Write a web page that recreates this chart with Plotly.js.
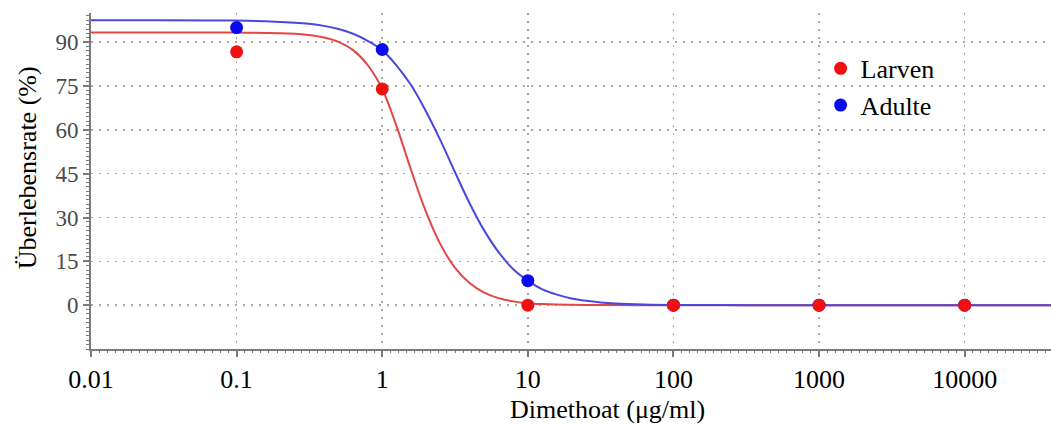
<!DOCTYPE html>
<html>
<head>
<meta charset="utf-8">
<script src="https://cdn.plot.ly/plotly-3.0.1.min.js"></script>
<style>
  html, body { margin: 0; padding: 0; background: #fff; }
  #chart { width: 1051px; height: 428px; }
</style>
</head>
<body>
<div id="chart"></div>
<script>
// Measured points
const concentrations = [0.1, 1, 10, 100, 1000, 10000];
const larvenSurvival = [86.7, 74.0, 0, 0, 0, 0];
const adulteSurvival = [95.0, 87.5, 8.4, 0, 0, 0];

// Fitted curves
const fitDose = [0.01, 0.1, 0.251, 0.316, 0.398, 0.501, 0.631, 0.794, 1, 1.259, 1.585, 1.995,
  2.512, 3.162, 3.981, 5.012, 6.31, 7.943, 10, 12.59, 15.85, 19.95, 25.12, 31.62, 39.81,
  63.1, 100, 316, 1000, 39811];
const larvenFit = [93.3, 93.3, 92.9, 92.4, 91.6, 90.1, 87.3, 82.2, 74.0, 61.0, 46.0, 32.0,
  20.8, 12.8, 7.6, 4.3, 2.4, 1.3, 0.7, 0.38, 0.2, 0.11, 0.06, 0.03, 0.02,
  0.01, 0, 0, 0, 0];
const adulteFit = [97.5, 97.4, 96.7, 96.3, 95.6, 94.5, 92.9, 90.5, 87.3, 81.9, 75.2, 66.4,
  56.4, 45.5, 34.9, 25.6, 18.1, 12.3, 8.4, 5.4, 3.6, 2.3, 1.5, 0.95, 0.6,
  0.25, 0.1, 0.01, 0, 0];

const xTickVals = [0.01, 0.1, 1, 10, 100, 1000, 10000];
const xTickText = ['0.01', '0.1', '1', '10', '100', '1000', '10000'];
const yTickVals = [0, 15, 30, 45, 60, 75, 90];

const seriesNames = ['Larven', 'Adulte'];
const xTitle = 'Dimethoat (μg/ml)';
const yTitle = 'Überlebensrate (%)';

const serif = 'Liberation Serif, Times New Roman, serif';
const axisGrey = '#7a7a7a';

const traces = [
  {x: fitDose, y: larvenFit, mode: 'lines', line: {color: 'rgb(228,70,70)', width: 2, shape: 'spline'},
   showlegend: false, hoverinfo: 'skip'},
  {x: fitDose, y: adulteFit, mode: 'lines', line: {color: 'rgb(72,72,225)', width: 2, shape: 'spline'},
   showlegend: false, hoverinfo: 'skip'},
  {x: concentrations, y: adulteSurvival, mode: 'markers', name: seriesNames[1],
   marker: {color: '#0a0af0', size: 13}, legendrank: 2},
  {x: concentrations, y: larvenSurvival, mode: 'markers', name: seriesNames[0],
   marker: {color: '#f01010', size: 13}, legendrank: 1},
  {x: [], y: [], xaxis: 'x2', yaxis: 'y', showlegend: false, hoverinfo: 'skip', mode: 'markers'}
];

const layout = {
  width: 1051, height: 428,
  margin: {l: 91, r: 0, t: 13, b: 79},
  paper_bgcolor: '#fff', plot_bgcolor: '#fff',
  font: {family: serif, color: '#000'},
  showlegend: true,
  legend: {
    x: 0.76, y: 0.905, xanchor: 'left', yanchor: 'top',
    bgcolor: 'rgba(0,0,0,0)', font: {family: serif, size: 26, color: '#000'},
    traceorder: 'normal', itemwidth: 30
  },
  xaxis: {
    type: 'log', range: [-2, 4.593],
    tickvals: xTickVals, ticktext: xTickText,
    tickfont: {family: serif, size: 26, color: '#000'},
    showline: true, linecolor: axisGrey, linewidth: 2,
    ticks: 'outside', ticklen: 6, tickwidth: 2, tickcolor: axisGrey,
    showgrid: true, gridcolor: '#a8a8a8', gridwidth: 1.5, griddash: '2px,6px',
    zeroline: false, mirror: false
  },
  xaxis2: {
    overlaying: 'x', anchor: 'y', side: 'bottom', type: 'linear',
    range: [-2, 4.593], showticklabels: false, showgrid: false, showline: false,
    zeroline: false, ticks: '', dtick: 1, tick0: -2,
    minor: {ticks: 'outside', ticklen: 3, tickwidth: 1, tickcolor: axisGrey, dtick: 1/18, tick0: -2, showgrid: false}
  },
  yaxis: {
    range: [-15, 100],
    tickvals: yTickVals,
    tickfont: {family: serif, size: 23, color: '#4a4a4a'},
    showline: true, linecolor: axisGrey, linewidth: 2,
    ticks: 'outside', ticklen: 6, tickwidth: 2, tickcolor: axisGrey,
    minor: {ticks: 'outside', ticklen: 3, tickwidth: 1, tickcolor: axisGrey, dtick: 1.5, tick0: 0, showgrid: false},
    showgrid: true, gridcolor: '#a8a8a8', gridwidth: 1.5, griddash: '2px,6px',
    zeroline: false
  },
  annotations: [
    {text: xTitle, xref: 'paper', yref: 'paper', x: 0.5375, y: -0.18, xanchor: 'center', yanchor: 'middle',
     showarrow: false, font: {family: serif, size: 26, color: '#000'}},
    {text: yTitle, xref: 'paper', yref: 'paper', x: -0.066, y: 0.54, xanchor: 'center', yanchor: 'middle',
     textangle: -90, showarrow: false, font: {family: serif, size: 26, color: '#000'}}
  ]
};

Plotly.newPlot('chart', traces, layout, {displayModeBar: false, staticPlot: true});
</script>
</body>
</html>
